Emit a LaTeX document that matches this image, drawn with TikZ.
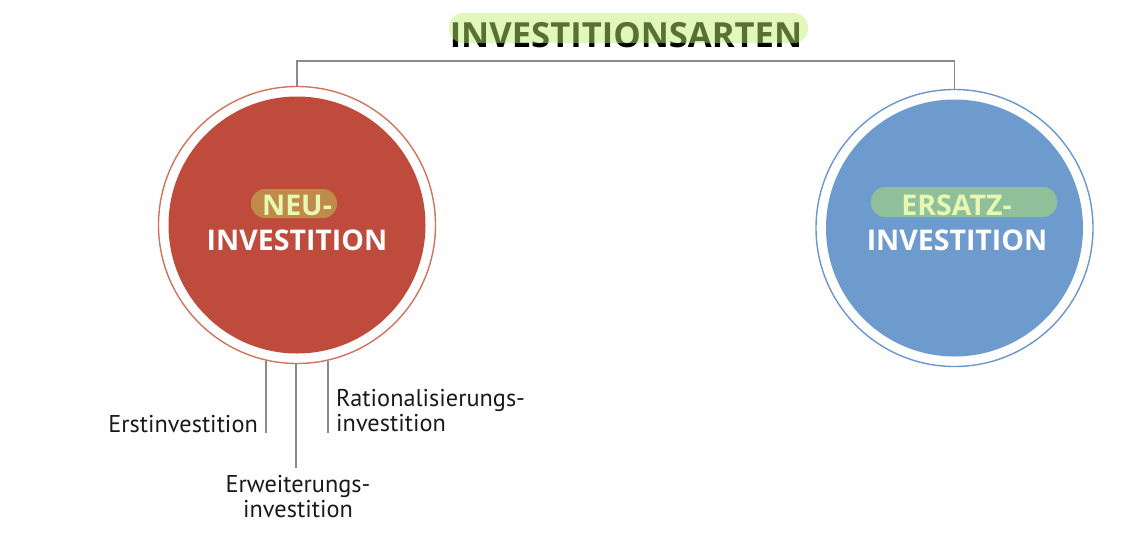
\documentclass[tikz,border=0pt]{standalone}
\usepackage{fontspec}
\setmainfont{Open Sans}
\newfontfamily\labelfont{PT Sans}
\definecolor{neured}{HTML}{BE4B3C}
\definecolor{neuring}{HTML}{D2735F}
\definecolor{ersblue}{HTML}{6E9BCD}
\definecolor{ersring}{HTML}{6A96CF}
\definecolor{titlehl}{HTML}{BFEE71}
\definecolor{neutag}{HTML}{C08A4A}
\definecolor{erstag}{HTML}{8FC09A}
\definecolor{tagtext}{HTML}{E6F8B4}
\definecolor{wire}{HTML}{8A8A8A}
\definecolor{labeltext}{HTML}{1A1A1A}
\begin{document}
\begin{tikzpicture}[x=1pt,y=-1pt,
  titletext/.style={font=\bfseries\fontsize{34.6}{34.6}\selectfont, text=black, inner sep=0pt},
  hlbar/.style={rectangle, rounded corners=14pt, inner sep=0pt},
  ring/.style={circle, draw, line width=1.4pt, minimum size=277pt, inner sep=0pt},
  disc/.style={circle, minimum size=257pt, inner sep=0pt},
  tagword/.style={font=\bfseries\fontsize{28.5}{28.5}\selectfont, text=tagtext, inner sep=0pt},
  mainword/.style={font=\bfseries\fontsize{28.5}{28.5}\selectfont, text=white, inner sep=0pt},
  conn/.style={draw=wire, line width=1.5pt},
  leaf/.style={font=\labelfont\fontsize{24.3}{25}\selectfont, text=labeltext, inner sep=0pt}
]
\useasboundingbox (0,0) rectangle (1124,544);

% heading with translucent marker stroke over it
\node[titletext, anchor=base] (title) at (626,47) {INVESTITIONSARTEN};
\node[hlbar, fill=titlehl, fill opacity=0.47, minimum width=359pt, minimum height=30pt] (titlemark) at (628.5,28) {};

% the two kinds of investment
\node[ring, draw=neuring] (neuring) at (297,225) {};
\node[disc, fill=neured] (neudisc) at (297,225) {};
\node[ring, draw=ersring] (ersring) at (954.5,228) {};
\node[disc, fill=ersblue] (ersdisc) at (954.5,228) {};

% tree from the heading down to both circles
\coordinate (bus) at (626,61);
\draw[conn] (neuring.north) |- (bus) -| (ersring.north);

% circle captions
\node[hlbar, fill=neutag, minimum width=86pt, minimum height=29pt] (neutag) at (294,203.5) {};
\node[tagword, anchor=base] (neuword) at (297,215.5) {NEU-};
\node[mainword, anchor=base] (neuinv) at (297,250) {INVESTITION};

\node[hlbar, fill=erstag, minimum width=186pt, minimum height=30pt] (erstag) at (964,202) {};
\node[tagword, anchor=base] (ersword) at (956.5,215.5) {ERSATZ-};
\node[mainword, anchor=base] (ersinv) at (957,250) {INVESTITION};

% subtypes of the new investment
\coordinate (e1) at (266,433);
\coordinate (e2) at (296,468);
\coordinate (e3) at (328,433);
\draw[conn] (e1 |- neuring.257.1) -- (e1);
\draw[conn] (e2 |- neuring.south) -- (e2);
\draw[conn] (e3 |- neuring.282.9) -- (e3);

\node[leaf, anchor=base east] (erst) at (258,432) {Erstinvestition};
\node[leaf, anchor=north west, align=left] (rat) at (336,389) {Rationalisierungs-\\investition};
\node[leaf, anchor=north, align=center] (erw) at (298,475) {Erweiterungs-\\investition};
\end{tikzpicture}
\end{document}
